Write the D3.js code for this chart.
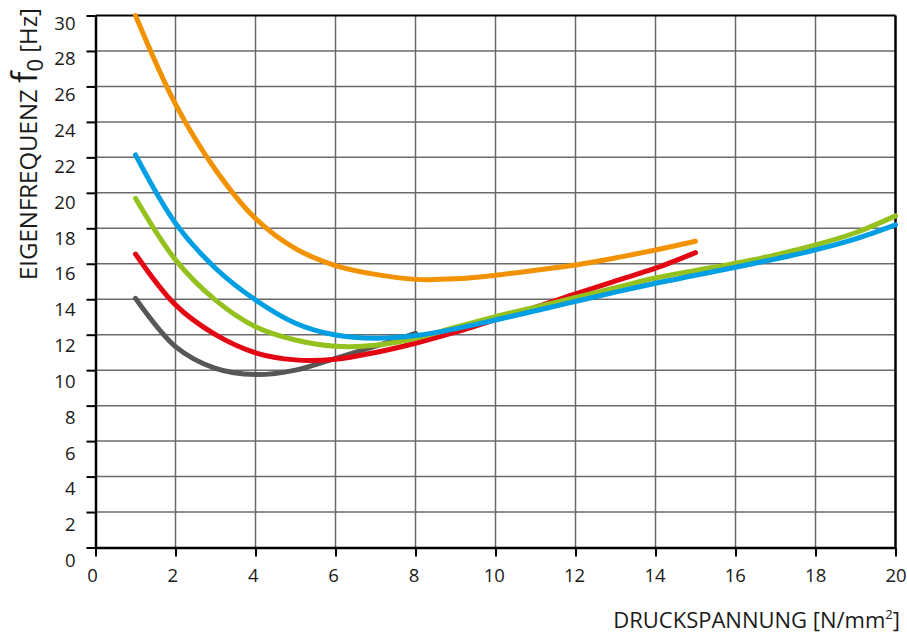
<!DOCTYPE html>
<html>
<head>
<meta charset="utf-8">
<script src="https://cdn.jsdelivr.net/npm/d3@7"></script>
<style>
  html, body { margin: 0; padding: 0; background: #fff; }
  svg { display: block; font-family: "Open Sans", sans-serif; }
</style>
</head>
<body>
<svg id="chart" width="907" height="633"></svg>
<script>
// values
const xTicks = [0, 2, 4, 6, 8, 10, 12, 14, 16, 18, 20];
const yTicks = [0, 2, 4, 6, 8, 10, 12, 14, 16, 18, 20, 22, 24, 26, 28, 30];

const xOrange = [1, 2, 3, 4, 5, 6, 7, 8, 9, 10, 11, 12, 13, 14, 15];
const yOrange = [30.0, 25.0, 21.3, 18.55, 16.85, 15.9, 15.4, 15.12, 15.15, 15.35, 15.63, 15.93, 16.33, 16.78, 17.27];

const xBlue = [1, 2, 3, 4, 5, 6, 7, 8, 9, 10, 11, 12, 13, 14, 15, 16, 17, 18, 19, 20];
const yBlue = [22.14, 18.29, 15.75, 13.96, 12.65, 11.98, 11.8, 11.95, 12.33, 12.83, 13.35, 13.88, 14.4, 14.9, 15.35, 15.8, 16.27, 16.78, 17.4, 18.19];

const xGreen = [1, 2, 3, 4, 5, 6, 7, 8, 9, 10, 11, 12, 13, 14, 15, 16, 17, 18, 19, 20];
const yGreen = [19.69, 16.22, 13.95, 12.45, 11.7, 11.35, 11.4, 11.8, 12.42, 13.02, 13.55, 14.1, 14.65, 15.2, 15.62, 16.03, 16.5, 17.06, 17.75, 18.7];

const xRed = [1, 2, 3, 4, 5, 6, 7, 8, 9, 10, 11, 12, 13, 14, 15];
const yRed = [16.55, 13.68, 12.0, 10.98, 10.58, 10.62, 11.0, 11.52, 12.14, 12.85, 13.55, 14.3, 15.03, 15.75, 16.63];

const xGray = [1, 2, 3, 4, 5, 6, 7, 8];
const yGray = [14.05, 11.33, 10.1, 9.75, 10.0, 10.67, 11.35, 12.08];

const series = [
    { name: 'gray',   xs: xGray,   ys: yGray,   color: '#575756' },
    { name: 'red',    xs: xRed,    ys: yRed,    color: '#e30613' },
    { name: 'green',  xs: xGreen,  ys: yGreen,  color: '#95c11f' },
    { name: 'blue',   xs: xBlue,   ys: yBlue,   color: '#009fe3' },
    { name: 'orange', xs: xOrange, ys: yOrange, color: '#f39200' }
];

const svg = d3.select('#chart');

const x = d3.scaleLinear().domain([0, 20]).range([95.5, 895.5]);
const y = d3.scaleLinear().domain([0, 30]).range([547.5, 15.5]);
// tick labels in the picture sit on a slightly wider spacing than the ticks
const xLab = d3.scaleLinear().domain([0, 20]).range([92, 895.5]);
const yLab = d3.scaleLinear().domain([0, 30]).range([560, 22.5]);

// grid
const grid = svg.append('g').attr('class', 'grid');
grid.selectAll('line.h')
    .data(yTicks.slice(1, -1))
    .enter().append('line')
    .attr('class', 'h')
    .attr('x1', x(0)).attr('x2', x(20))
    .attr('y1', d => y(d)).attr('y2', d => y(d))
    .attr('stroke', '#6a6a6a').attr('stroke-width', 1.5);
grid.selectAll('line.v')
    .data(xTicks.slice(1, -1))
    .enter().append('line')
    .attr('class', 'v')
    .attr('x1', d => x(d)).attr('x2', d => x(d))
    .attr('y1', y(0)).attr('y2', y(30))
    .attr('stroke', '#6a6a6a').attr('stroke-width', 1.5);

// frame top / right
svg.append('line')
    .attr('x1', x(0)).attr('x2', x(20)).attr('y1', y(30)).attr('y2', y(30))
    .attr('stroke', '#000').attr('stroke-width', 2);
svg.append('line')
    .attr('x1', x(20)).attr('x2', x(20)).attr('y1', y(30)).attr('y2', y(0))
    .attr('stroke', '#000').attr('stroke-width', 2.5);

// axes
const xAxis = svg.append('g')
    .attr('transform', 'translate(0,' + y(0) + ')')
    .call(d3.axisBottom(x).tickValues(xTicks).tickSize(9).tickSizeOuter(0));
const yAxis = svg.append('g')
    .attr('transform', 'translate(' + x(0) + ',0)')
    .call(d3.axisLeft(y).tickValues(yTicks).tickSize(9).tickSizeOuter(0));

[xAxis, yAxis].forEach(function(a) {
    a.select('.domain').attr('stroke', '#000').attr('stroke-width', 2.5);
    a.selectAll('.tick line').attr('stroke', '#000').attr('stroke-width', 2);
    a.selectAll('.tick text')
        .attr('fill', '#1a1a1a')
        .style('font-family', '"Open Sans", sans-serif')
        .style('font-size', '18.5px');
});
xAxis.selectAll('.tick text')
    .attr('dy', null)
    .attr('y', 34)
    .attr('x', d => xLab(d) - x(d));
yAxis.selectAll('.tick text')
    .attr('dy', null)
    .attr('x', -20)
    .attr('y', d => yLab(d) - y(d) + 6.5);

// curves
const line = d3.line()
    .x(d => x(d[0]))
    .y(d => y(d[1]))
    .curve(d3.curveCatmullRom.alpha(0.5));

svg.append('g').selectAll('path')
    .data(series)
    .enter().append('path')
    .attr('d', s => line(s.xs.map((v, i) => [v, s.ys[i]])))
    .attr('fill', 'none')
    .attr('stroke', s => s.color)
    .attr('stroke-width', 5)
    .attr('stroke-linecap', 'round')
    .attr('stroke-linejoin', 'round');

// axis titles
const xt = svg.append('text')
    .attr('x', 900).attr('y', 628)
    .attr('text-anchor', 'end')
    .attr('fill', '#1a1a1a')
    .style('font-size', '22px');
xt.append('tspan').text('DRUCKSPANNUNG [N/mm');
xt.append('tspan').attr('dy', -9).style('font-size', '13px').text('2');
xt.append('tspan').attr('dy', 9).text(']');

const yt = svg.append('text')
    .attr('transform', 'translate(37,280) rotate(-90)')
    .attr('text-anchor', 'start')
    .attr('fill', '#1a1a1a')
    .style('font-size', '24px');
yt.append('tspan').text('EIGENFREQUENZ ');
yt.append('tspan').style('font-size', '34px').text('f');
yt.append('tspan').attr('dy', 6).style('font-size', '22px').text('0');
yt.append('tspan').attr('dy', -6).text(' [Hz]');
</script>
</body>
</html>
